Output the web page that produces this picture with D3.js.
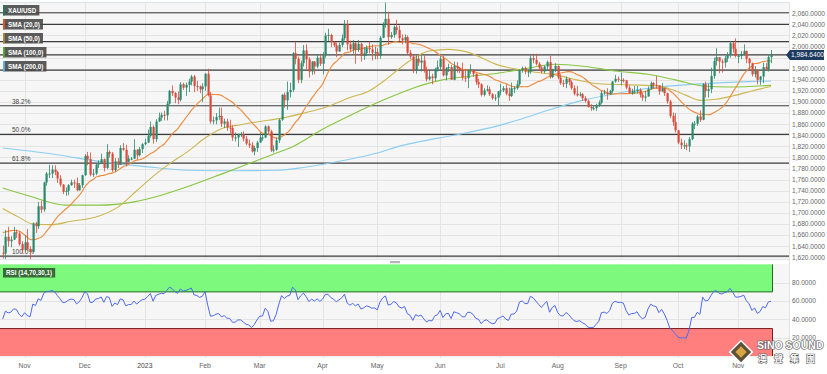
<!DOCTYPE html>
<html>
<head>
<meta charset="utf-8">
<script src="https://cdnjs.cloudflare.com/ajax/libs/d3/7.8.5/d3.min.js"></script>
<style>
  body { margin: 0; background: #fff; }
  svg { display: block; font-family: "Liberation Sans", Arial, sans-serif; }
</style>
</head>
<body>
<div class="chart"></div>
<script>
// ---- data (daily XAU/USD, first candle 2022-10-20) ----
var startDate = "2022-10-20";
var firstOpen = 1628;
// closes before the first candle, only used for SMA(20) and RSI(14)
var priorCloses = [1671,1644,1622,1629,1660,1660,1661,1699,1725,1716,1712,1695,1667,1666,1673,1666,1644,1650,1652,1630];

var closes = [
  1627,1657,1649,1652,1665,1663,1644,1633,
  1647,1635,1630,1681,1676,1712,1706,1755,1771,1771,1778,1774,1762,1751,1738,1740,1750,1755,1754,1741,1750,1768,
  1803,1797,1769,1771,1787,1789,1797,1781,1810,1807,1777,1793,1787,1817,1814,1792,1798,1798,1814,1804,1815,1824,
  1827,1839,1855,1833,1865,1872,1877,1876,1897,1920,1916,1908,1904,1932,1926,1931,1937,1946,1929,1928,1923,1928,
  1951,1912,1865,1867,1873,1875,1861,1865,1854,1853,1836,1836,1842,1842,1834,1825,1822,1811,1817,1827,
  1836,1836,1856,1847,1813,1814,1831,1868,1913,1903,1918,1922,1988,1978,1940,1970,1993,1977,1955,1973,1964,1980,1969,
  1984,2020,2021,2008,2002,1991,2003,2015,2040,2004,1995,2006,1994,2005,1983,1988,1998,1995,1989,1990,
  1983,2016,2039,2050,2017,2021,2035,2030,2015,2011,2017,1989,1982,1957,1978,1971,1975,1957,1941,1946,1943,1959,1963,
  1978,1948,1961,1963,1940,1965,1961,1957,1944,1943,1958,1958,1951,1936,1932,1913,1921,1923,1914,1907,1908,1919,
  1921,1925,1915,1911,1925,1925,1932,1957,1961,1955,1955,1979,1976,1969,1962,1955,1964,1972,1945,1959,1965,
  1944,1934,1933,1942,1936,1925,1915,1912,1914,1907,1902,1891,1889,1889,1894,1899,1916,1917,1914,1920,1937,1942,1940,
  1940,1939,1926,1916,1919,1919,1922,1913,1908,1910,1924,1934,1931,1930,1919,1925,1916,1901,1875,1864,1849,
  1827,1822,1822,1820,1833,1861,1861,1874,1868,1932,1920,1923,1947,1974,1981,1973,1971,1979,1985,2006,1996,1983,
  1983,1986,1992,1978,1970,1950,1958,1940,1946,1963,1959,1981,1984.64
];

var highs = [
  1641,1669,1675,1658,1675,1670,1667,1649,
  1660,1671,1640,1683,1684,1720,1722,1756,1774,1787,1786,1786,1776,1768,1752,1746,1752,1760,1760,1764,1754,1769,
  1806,1810,1809,1779,1789,1795,1807,1798,1824,1813,1810,1799,1799,1822,1826,1823,1804,1801,1833,1815,1819,1826,
  1834,1850,1865,1858,1869,1881,1881,1884,1902,1922,1930,1918,1919,1936,1935,1935,1942,1949,1949,1938,1930,1934,
  1952,1960,1918,1874,1880,1890,1890,1870,1870,1868,1858,1845,1843,1846,1847,1839,1832,1828,1821,1830,
  1845,1842,1858,1858,1850,1822,1836,1870,1914,1917,1937,1935,1990,2009,1982,1975,2003,2004,1981,1974,1974,1985,1987,
  1990,2025,2032,2023,2010,2007,2007,2022,2048,2048,2011,2012,2008,2012,2007,1999,2002,2009,2004,2000,
  1997,2019,2044,2079,2063,2026,2038,2048,2038,2022,2022,2020,1994,1985,1984,1984,1984,1984,1964,1957,1951,1962,1975,
  1983,1983,1963,1969,1967,1973,1972,1963,1971,1959,1959,1968,1959,1951,1942,1934,1925,1930,1928,1916,1914,1920,
  1933,1929,1932,1926,1935,1929,1939,1959,1964,1964,1958,1984,1987,1987,1972,1965,1966,1975,1983,1960,1970,
  1966,1950,1940,1946,1943,1939,1930,1929,1918,1916,1911,1904,1896,1893,1897,1903,1920,1922,1925,1922,1938,1949,1946,
  1953,1943,1940,1930,1924,1929,1929,1925,1917,1920,1928,1937,1936,1947,1930,1934,1925,1917,1904,1881,1880,
  1849,1834,1831,1826,1837,1864,1866,1877,1885,1934,1937,1933,1962,1980,1997,1979,1977,1983,1990,2010,2009,2015,
  1986,1992,2004,1993,1980,1971,1965,1959,1947,1971,1970,1985,1994
];

var lows = [
  1618,1617,1639,1638,1651,1655,1641,1627,
  1630,1632,1616,1629,1664,1671,1700,1702,1749,1763,1763,1768,1754,1747,1734,1731,1732,1749,1745,1739,1740,1745,
  1767,1786,1766,1765,1768,1781,1788,1775,1779,1800,1774,1774,1781,1787,1812,1784,1792,1795,1797,1796,1802,1808,
  1822,1826,1836,1825,1828,1864,1866,1867,1867,1895,1911,1898,1896,1901,1922,1911,1918,1930,1918,1920,1916,1900,
  1920,1910,1861,1860,1860,1868,1855,1853,1848,1843,1830,1829,1819,1837,1829,1822,1817,1809,1804,1810,
  1826,1830,1835,1842,1810,1809,1812,1826,1866,1890,1886,1908,1918,1968,1934,1934,1964,1959,1944,1949,1950,1961,1965,
  1950,1980,2010,1999,1999,1981,1991,1999,2011,1993,1991,1987,1969,1990,1973,1976,1983,1988,1975,1977,
  1977,1978,2015,2034,2003,2014,2016,2022,2010,2004,2006,1986,1978,1952,1951,1965,1955,1953,1937,1939,1932,1938,1955,
  1957,1946,1939,1954,1940,1939,1953,1952,1939,1936,1925,1951,1945,1931,1925,1910,1910,1919,1911,1904,1902,1893,
  1912,1918,1912,1902,1909,1916,1922,1929,1953,1950,1945,1951,1970,1966,1956,1952,1952,1956,1942,1943,1954,
  1941,1931,1927,1925,1930,1922,1912,1910,1910,1902,1899,1890,1884,1885,1884,1891,1896,1913,1904,1913,1916,1935,1936,
  1930,1935,1923,1915,1913,1915,1915,1908,1902,1901,1910,1922,1924,1924,1913,1919,1911,1897,1871,1857,1845,
  1824,1815,1815,1813,1810,1831,1851,1857,1864,1867,1908,1908,1916,1942,1966,1952,1953,1962,1972,1980,1989,1980,
  1970,1977,1984,1970,1958,1946,1944,1932,1931,1934,1956,1955,1970
];

// longer moving averages at sample days (day index, value)
var sma50Days  = [0,6,11,18,25,35,42,49,56,62,68,74,80,87,94,101,110,119,127,134,140,145,150,156,163,170,181,193,202,210,218,230,240,245,250,255,261,267,274,281];
var sma50Vals  = [1708,1692,1680,1679,1685,1694,1710,1740,1770,1792,1812,1835,1852,1859,1865,1870,1880,1892,1908,1920,1940,1960,1978,1992,1995,1990,1967,1955,1949,1940,1933,1931,1929,1922,1912,1903,1905,1911,1920,1928];
var sma100Days = [0,10,23,35,48,58,68,80,90,99,105,117,128,139,150,160,170,181,191,202,213,224,236,246,256,266,281];
var sma100Vals = [1745,1730,1714,1714,1720,1732,1748,1770,1789,1806,1817,1851,1878,1903,1925,1939,1946,1952,1960,1968,1964,1956,1950,1940,1929,1927,1930];
var sma200Days = [0,20,35,53,68,85,100,110,125,137,145,152,165,181,190,200,212,224,240,260,281];
var sma200Vals = [1817,1805,1793,1783,1777,1776,1777,1782,1795,1808,1820,1828,1840,1857,1870,1886,1903,1915,1927,1934,1938];

var priceTicks = d3.range(1620, 2061, 20);
var rsiTicks = [20, 40, 60, 80];
var fibHigh = 2061, fibLow = 1622;
var fibLevels = [0, 0.236, 0.382, 0.5, 0.618, 1];
var fibLabels = ["", "", "38.2%", "50.0%", "61.8%", "100.0%"];  // top two sit under the legend
var extraLevels = [2040, 2009, 1985];
var legendItems = ["XAU/USD", "SMA (20,0)", "SMA (50,0)", "SMA (100,0)", "SMA (200,0)"];
var legendColors = ["#1f7a5c", "#f4511e", "#b08d2a", "#55b02c", "#5bb5ee"];

// ---- build ----
var W = 827, H = 374;
var plotRight = 789;
var upColor = "#2a8a6d", downColor = "#dc4a3b";

// trading days (weekdays only)
var days = [];
var d = new Date(startDate + "T00:00:00Z");
while (days.length < closes.length) {
  var wd = d.getUTCDay();
  if (wd !== 0 && wd !== 6) days.push(new Date(d));
  d.setUTCDate(d.getUTCDate() + 1);
}

var candles = closes.map(function (c, i) {
  var o = i === 0 ? firstOpen : closes[i - 1];
  return {
    i: i, date: days[i], open: o, close: c,
    high: Math.max(highs[i], o, c), low: Math.min(lows[i], o, c)
  };
});

// SMA(20) from closes
var allCloses = priorCloses.concat(closes);
var np = priorCloses.length;
var sma20 = closes.map(function (c, i) {
  var k = i + np;
  return { i: i, v: d3.mean(allCloses.slice(k - 19, k + 1)) };
});

// RSI(14), Wilder smoothing
var rsi = [];
(function () {
  var n = 14, gain = 0, loss = 0;
  for (var k = 1; k <= n; k++) {
    var ch = allCloses[k] - allCloses[k - 1];
    if (ch > 0) gain += ch; else loss -= ch;
  }
  gain /= n; loss /= n;
  for (var k2 = n + 1; k2 < allCloses.length; k2++) {
    var ch2 = allCloses[k2] - allCloses[k2 - 1];
    gain = (gain * (n - 1) + Math.max(ch2, 0)) / n;
    loss = (loss * (n - 1) + Math.max(-ch2, 0)) / n;
    var i = k2 - np;
    if (i >= 0) rsi.push({ i: i, v: loss === 0 ? 100 : 100 - 100 / (1 + gain / loss) });
  }
})();

var x = d3.scaleLinear().domain([0, closes.length - 1]).range([2.7, 771]);
var bw = 2;
var y = d3.scaleLinear().domain([1620, 2060]).range([257.3, 13.3]);
var yr = d3.scaleLinear().domain([20, 80]).range([337.7, 282.7]);

var svg = d3.select(".chart").append("svg")
  .attr("width", W).attr("height", H);

// month boundaries
var monthStarts = candles.filter(function (c, i) {
  return i > 0 && c.date.getUTCMonth() !== candles[i - 1].date.getUTCMonth();
});
var fmtMonth = d3.utcFormat("%b"), fmtYear = d3.utcFormat("%Y");

// ---- price panel ----
var main = svg.append("g");
main.append("rect").attr("x", 0).attr("y", 2).attr("width", plotRight).attr("height", 257)
  .attr("fill", "#f6f6f6");
main.append("line").attr("x1", 0).attr("x2", plotRight).attr("y1", 2.5).attr("y2", 2.5)
  .attr("stroke", "#dde3ea");

main.selectAll(".hgrid").data(priceTicks).enter().append("line")
  .attr("x1", 0).attr("x2", plotRight)
  .attr("y1", function (v) { return Math.round(y(v)) + 0.5; })
  .attr("y2", function (v) { return Math.round(y(v)) + 0.5; })
  .attr("stroke", "#e4e4e4");

main.selectAll(".vgrid").data(monthStarts).enter().append("line")
  .attr("x1", function (c) { return Math.round(x(c.i)) + 0.5; })
  .attr("x2", function (c) { return Math.round(x(c.i)) + 0.5; })
  .attr("y1", 3).attr("y2", 259)
  .attr("stroke", "#e4e4e4");

// fib and horizontal levels
var fibPrices = fibLevels.map(function (f) { return fibHigh - f * (fibHigh - fibLow); });
main.selectAll(".lvl").data(fibPrices.concat(extraLevels)).enter().append("line")
  .attr("x1", 0).attr("x2", plotRight)
  .attr("y1", function (v) { return y(v); }).attr("y2", function (v) { return y(v); })
  .attr("stroke", "#3c3c3c").attr("stroke-width", 1.2);

main.selectAll(".fibtxt").data(fibPrices.filter(function (v, i) { return fibLabels[i]; }))
  .enter().append("text")
  .attr("x", 12).attr("y", function (v) { return y(v) - 2; })
  .attr("font-size", 6.5).attr("fill", "#444")
  .text(function (v) { return fibLabels[fibPrices.indexOf(v)]; });

// moving averages
var line = d3.line().x(function (p) { return x(p.i); }).y(function (p) { return y(p.v); })
  .curve(d3.curveMonotoneX);
function pairs(days, vals) { return days.map(function (dd, k) { return { i: dd, v: vals[k] }; }); }

main.append("path").datum(pairs(sma200Days, sma200Vals)).attr("d", line)
  .attr("fill", "none").attr("stroke", "#8ccdf4").attr("stroke-width", 1.1);
main.append("path").datum(pairs(sma100Days, sma100Vals)).attr("d", line)
  .attr("fill", "none").attr("stroke", "#88c640").attr("stroke-width", 1.1);
main.append("path").datum(pairs(sma50Days, sma50Vals)).attr("d", line)
  .attr("fill", "none").attr("stroke", "#cdb650").attr("stroke-width", 1.1);
main.append("path").datum(sma20).attr("d", line)
  .attr("fill", "none").attr("stroke", "#f0883a").attr("stroke-width", 1.1);

// candles
var cg = main.selectAll(".candle").data(candles).enter().append("g");
cg.append("line")
  .attr("x1", function (c) { return Math.round(x(c.i)) + 0.5; })
  .attr("x2", function (c) { return Math.round(x(c.i)) + 0.5; })
  .attr("y1", function (c) { return y(c.high); })
  .attr("y2", function (c) { return y(c.low); })
  .attr("stroke", function (c) { return c.close >= c.open ? upColor : downColor; })
  .attr("stroke-opacity", 0.8);
cg.append("rect")
  .attr("x", function (c) { return Math.round(x(c.i)) - 0.5; })
  .attr("width", bw + 0.2)
  .attr("y", function (c) { return y(Math.max(c.open, c.close)); })
  .attr("height", function (c) { return Math.max(1, Math.abs(y(c.open) - y(c.close))); })
  .attr("fill", function (c) { return c.close >= c.open ? upColor : downColor; });

// legend
var lg = main.selectAll(".leg").data(legendItems).enter().append("g")
  .attr("transform", function (t, k) { return "translate(3," + (5 + k * 14) + ")"; });
var lgBox = lg.append("rect").attr("height", 10.5)
  .attr("fill", "#4a4a4a").attr("fill-opacity", 0.9);
lg.append("rect").attr("width", 1.8).attr("height", 10.5)
  .attr("fill", function (t, k) { return legendColors[k]; });
var lgText = lg.append("text").attr("x", 5).attr("y", 7.8).attr("font-size", 6.3).attr("font-weight", "bold")
  .attr("fill", "#fff").text(function (t) { return t; });
lgBox.attr("width", function (t, k) { return lgText.nodes()[k].getComputedTextLength() + 8; });

// price axis
var last = closes[closes.length - 1];
svg.selectAll(".ptick").data(priceTicks.filter(function (v) { return Math.abs(y(v) - y(last)) > 6; }))
  .enter().append("text")
  .attr("x", 792).attr("y", function (v) { return y(v) + 2.3; })
  .attr("font-size", 6.6).attr("fill", "#666")
  .text(function (v) { return d3.format(",.4f")(v); });
svg.append("line").attr("x1", plotRight + 0.5).attr("x2", plotRight + 0.5).attr("y1", 2).attr("y2", 359)
  .attr("stroke", "#e3e3e3");

// last price marker
var ly = y(last);
svg.append("path")
  .attr("d", "M786," + ly + " L790," + (ly - 5) + " L824," + (ly - 5) + " L824," + (ly + 5) + " L790," + (ly + 5) + "Z")
  .attr("fill", "#1d3a60");
svg.append("text").attr("x", 791).attr("y", ly + 2.4).attr("font-size", 6.6).attr("fill", "#fff")
  .text(d3.format(",.4f")(last));

// ---- separator ----
svg.append("line").attr("x1", 0).attr("x2", plotRight).attr("y1", 259.5).attr("y2", 259.5).attr("stroke", "#dde3ea");
svg.append("rect").attr("x", 390).attr("y", 261).attr("width", 10).attr("height", 2.2).attr("fill", "#b5b5b5");

// ---- RSI panel ----
var lower = svg.append("g");
lower.append("rect").attr("x", 0).attr("y", 264).attr("width", plotRight).attr("height", 94).attr("fill", "#f6f6f6");
lower.selectAll(".rvgrid").data(monthStarts).enter().append("line")
  .attr("x1", function (c) { return Math.round(x(c.i)) + 0.5; })
  .attr("x2", function (c) { return Math.round(x(c.i)) + 0.5; })
  .attr("y1", 264).attr("y2", 358).attr("stroke", "#e4e4e4");
lower.selectAll(".rhgrid").data(rsiTicks).enter().append("line")
  .attr("x1", 0).attr("x2", plotRight)
  .attr("y1", function (v) { return Math.round(yr(v)) + 0.5; })
  .attr("y2", function (v) { return Math.round(yr(v)) + 0.5; })
  .attr("stroke", "#e4e4e4");

var zoneRight = x(closes.length - 1) + 1.5;
lower.append("rect").attr("x", 0).attr("y", yr(100)).attr("width", zoneRight).attr("height", yr(70) - yr(100))
  .attr("fill", "#7dfa7d");
lower.append("rect").attr("x", 0).attr("y", yr(30)).attr("width", zoneRight).attr("height", yr(0) - yr(30))
  .attr("fill", "#ff7f7f");
lower.append("path")
  .attr("d", "M0," + yr(70) + "H" + zoneRight + "V" + yr(100))
  .attr("fill", "none").attr("stroke", "#1f6b1f").attr("stroke-width", 1);
lower.append("path")
  .attr("d", "M0," + yr(30) + "H" + zoneRight + "V" + yr(0))
  .attr("fill", "none").attr("stroke", "#7a2020").attr("stroke-width", 1);

lower.append("path").datum(rsi)
  .attr("d", d3.line().x(function (p) { return x(p.i); }).y(function (p) { return yr(p.v); }))
  .attr("fill", "none").attr("stroke", "#4d6af0").attr("stroke-width", 1);

var rl = lower.append("g").attr("transform", "translate(3,268)");
var rlBox = rl.append("rect").attr("height", 9.5).attr("fill", "#2f5a2f").attr("fill-opacity", 0.9);
var rlText = rl.append("text").attr("x", 3).attr("y", 7).attr("font-size", 6.3).attr("font-weight", "bold")
  .attr("fill", "#fff").text("RSI (14,70,30,1)");
rlBox.attr("width", rlText.node().getComputedTextLength() + 6);

svg.selectAll(".rtick").data(rsiTicks).enter().append("text")
  .attr("x", 792).attr("y", function (v) { return yr(v) + 2.3; })
  .attr("font-size", 6.6).attr("fill", "#666")
  .text(function (v) { return d3.format(".4f")(v); });

// ---- time axis ----
svg.selectAll(".mlab").data(monthStarts).enter().append("text")
  .attr("x", function (c) { return x(c.i); }).attr("y", 367.5)
  .attr("text-anchor", "middle").attr("font-size", 6.8)
  .attr("fill", function (c) { return c.date.getUTCMonth() === 0 ? "#444" : "#666"; })
  .text(function (c) { return c.date.getUTCMonth() === 0 ? fmtYear(c.date) : fmtMonth(c.date); });

// ---- watermark ----
var wm = svg.append("g").attr("transform", "translate(741,352)");
wm.append("rect").attr("x", -8).attr("y", -8).attr("width", 16).attr("height", 16)
  .attr("transform", "rotate(45)").attr("fill", "#5e5036").attr("stroke", "#fff").attr("stroke-width", 1.5);
wm.append("rect").attr("x", -4).attr("y", -4).attr("width", 8).attr("height", 8)
  .attr("transform", "rotate(45)").attr("fill", "#d7a640");
wm.append("text").attr("x", 16).attr("y", -3).attr("font-size", 10.5).attr("font-weight", "bold")
  .attr("fill", "#fff").attr("stroke", "#555").attr("stroke-width", 1.2).attr("paint-order", "stroke")
  .text("SiNO SOUND");
wm.append("text").attr("x", 17).attr("y", 10).attr("font-size", 9).attr("font-weight", "bold")
  .attr("font-family", "Noto Sans CJK TC").attr("letter-spacing", 7)
  .attr("fill", "#fff").attr("stroke", "#555").attr("stroke-width", 1).attr("paint-order", "stroke")
  .text("澳聲集團");
</script>
</body>
</html>
